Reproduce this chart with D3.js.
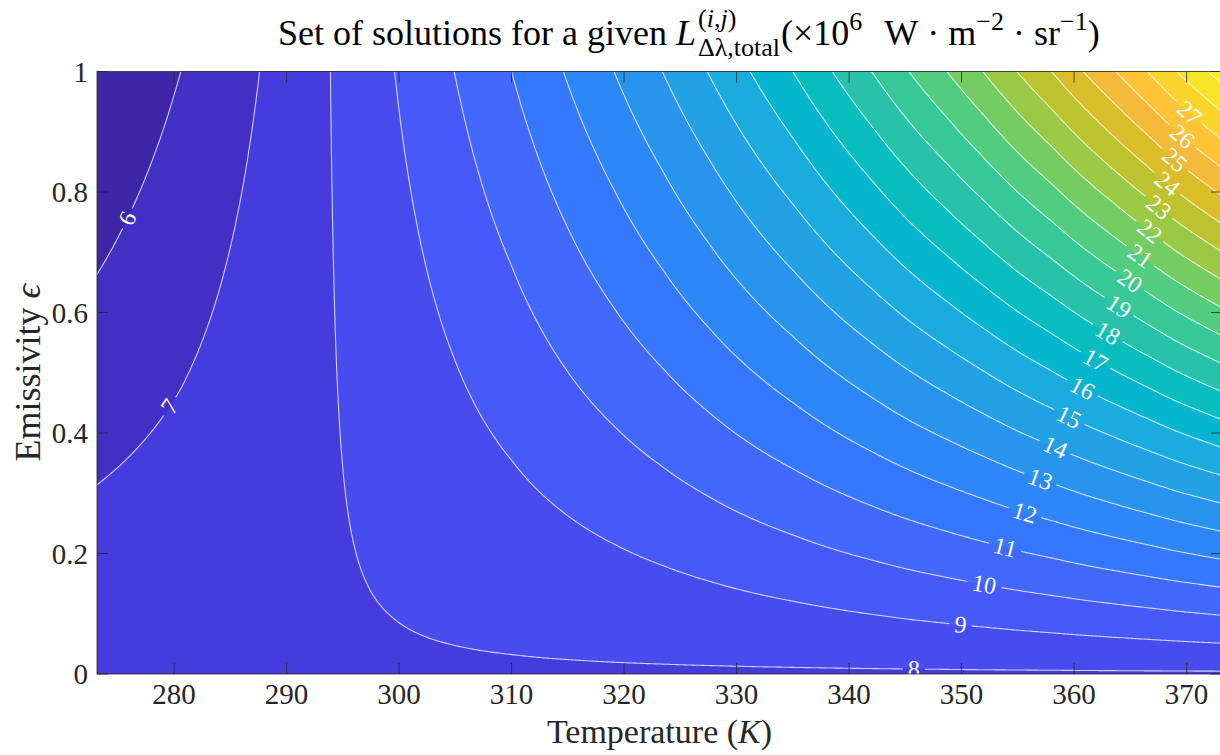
<!DOCTYPE html>
<html><head><meta charset="utf-8">
<script src="https://cdn.jsdelivr.net/npm/d3@7/dist/d3.min.js"></script>
<style>html,body{margin:0;padding:0;background:#fff}svg{display:block}</style>
</head><body>
<svg id="chart" width="1220" height="755"></svg>
<script>
// ---------------- data ----------------
const levels = [6,7,8,9,10,11,12,13,14,15,16,17,18,19,20,21,22,23,24,25,26,27,28,29];
// temperature (K) at which each level meets the top edge (emissivity = 1)
const topEdgeTemperature = [280.6,287.6,293.9,299.6,304.9,310.0,314.6,319.1,323.4,327.4,331.2,335.0,
                            338.5,342.0,345.3,348.7,351.9,354.9,358.0,360.8,363.7,366.5,369.1,371.9];
// emissivity at which levels 6 and 7 meet the left edge (T = 273.15 K)
const leftEdgeLevels = [6, 7];
const leftEdgeEmissivity = [0.666, 0.313];
// level reached as emissivity -> 0 (reflected surroundings)
const ambientLevel = 7.9;
const labelledLevels = [6,7,8,9,10,11,12,13,14,15,16,17,18,19,20,21,22,23,24,25,26,27];
const temperatureRange = [273.15, 373.15];
const emissivityRange = [0, 1];
const xTicks = [280,290,300,310,320,330,340,350,360,370];
const xTickLabels = ["280","290","300","310","320","330","340","350","360","370"];
const yTicks = [0,0.2,0.4,0.6,0.8,1];
const yTickLabels = ["0","0.2","0.4","0.6","0.8","1"];

// ---------------- style ----------------
const parulaRGB = [[0.2422,0.1504,0.6603],[0.2504,0.1650,0.7076],[0.2578,0.1818,0.7511],[0.2647,0.1978,0.7952],
[0.2706,0.2147,0.8364],[0.2751,0.2342,0.8710],[0.2783,0.2559,0.8991],[0.2803,0.2782,0.9221],[0.2813,0.3006,0.9414],
[0.2810,0.3228,0.9579],[0.2795,0.3447,0.9717],[0.2760,0.3667,0.9829],[0.2699,0.3892,0.9906],[0.2602,0.4123,0.9952],
[0.2440,0.4358,0.9988],[0.2206,0.4603,0.9973],[0.1963,0.4847,0.9892],[0.1834,0.5074,0.9798],[0.1786,0.5289,0.9682],
[0.1764,0.5499,0.9520],[0.1687,0.5703,0.9359],[0.1540,0.5902,0.9218],[0.1460,0.6091,0.9079],[0.1380,0.6276,0.8973],
[0.1248,0.6459,0.8883],[0.1113,0.6635,0.8763],[0.0952,0.6798,0.8598],[0.0689,0.6948,0.8394],[0.0297,0.7082,0.8163],
[0.0036,0.7203,0.7917],[0.0067,0.7312,0.7660],[0.0433,0.7411,0.7394],[0.0964,0.7500,0.7120],[0.1408,0.7584,0.6842],
[0.1717,0.7670,0.6554],[0.1938,0.7758,0.6251],[0.2161,0.7843,0.5923],[0.2470,0.7918,0.5567],[0.2906,0.7973,0.5188],
[0.3406,0.8008,0.4789],[0.3909,0.8029,0.4354],[0.4456,0.8024,0.3909],[0.5044,0.7993,0.3480],[0.5616,0.7942,0.3045],
[0.6174,0.7876,0.2612],[0.6720,0.7793,0.2227],[0.7242,0.7698,0.1910],[0.7738,0.7598,0.1646],[0.8203,0.7498,0.1535],
[0.8634,0.7406,0.1596],[0.9035,0.7330,0.1774],[0.9393,0.7288,0.2100],[0.9728,0.7298,0.2394],[0.9956,0.7434,0.2371],
[0.9970,0.7659,0.2199],[0.9952,0.7893,0.2028],[0.9892,0.8136,0.1885],[0.9786,0.8386,0.1766],[0.9676,0.8639,0.1643],
[0.9610,0.8890,0.1537],[0.9597,0.9135,0.1423],[0.9628,0.9373,0.1265],[0.9691,0.9606,0.1064],[0.9769,0.9839,0.0805]];
const parulaScale = d3.scaleLinear()
  .domain(parulaRGB.map((_, i) => i / (parulaRGB.length - 1)))
  .range(parulaRGB.map(c => d3.rgb(c[0]*255, c[1]*255, c[2]*255).formatHex()))
  .interpolate(d3.interpolateRgb).clamp(true);

const FONT = "'Liberation Serif','Times New Roman',serif";
const AX = "#262626";
const plot = {left: 97, right: 1222, top: 71.5, bottom: 674};

// layout guides (data space) along which contour labels sit
const labelGuides = [
  {levels: [6,7], path: [[274.3,0.886],[281.5,0.288]]},
  {levels: [8,9,10,11,12,13,14,15,16,17,18,19,20,21,22,23,24,25,26,27],
   path: [[345.0,-0.01],[345.84,0.010],[350.1,0.085],[355.6,0.267],[359.6,0.428],[363.0,0.566],
          [366.1,0.703],[368.3,0.814],[370.24,0.93],[371.0,0.99]]}
];

// ---------------- scales & field ----------------
const x = d3.scaleLinear().domain(temperatureRange).range([plot.left, plot.right]);
const y = d3.scaleLinear().domain(emissivityRange).range([plot.bottom, plot.top]);
// level at emissivity 1 along the left edge, recovered from the left-edge crossings
const leftEdgeTop = d3.mean(leftEdgeLevels, (L, i) => ambientLevel - (ambientLevel - L) / leftEdgeEmissivity[i]);
const blackbody = d3.scaleLinear()
  .domain([temperatureRange[0], ...topEdgeTemperature])
  .range([leftEdgeTop, ...levels]);
const field = (T, e) => e * blackbody(T) + (1 - e) * ambientLevel;

const nx = 600, ny = 320;
const T0 = temperatureRange[0], T1 = temperatureRange[1];
const values = new Float64Array(nx * ny);
for (let j = 0; j < ny; j++) {
  const e = 1 - j / (ny - 1);
  for (let i = 0; i < nx; i++) {
    values[j * nx + i] = field(T0 + i * (T1 - T0) / (nx - 1), e);
  }
}
const [vmin, vmax] = d3.extent(values);
const colorOf = v => parulaScale((v - vmin) / (vmax - vmin));

const gridT = gx => T0 + (gx - 0.5) * (T1 - T0) / (nx - 1);
const gridE = gy => 1 - (gy - 0.5) / (ny - 1);
const proj = d3.geoTransform({point: function(px, py) { this.stream.point(x(gridT(px)), y(gridE(py))); }});
const path = d3.geoPath(proj);
const contours = d3.contours().size([nx, ny]).thresholds(levels)(values);

// ---------------- draw ----------------
const svg = d3.select("#chart");
const defs = svg.append("defs");
defs.append("clipPath").attr("id", "plotclip").append("rect")
  .attr("x", plot.left).attr("y", plot.top)
  .attr("width", plot.right - plot.left).attr("height", plot.bottom - plot.top);

const gPlot = svg.append("g").attr("clip-path", "url(#plotclip)");
gPlot.append("rect").attr("x", plot.left).attr("y", plot.top)
  .attr("width", plot.right - plot.left).attr("height", plot.bottom - plot.top)
  .attr("fill", colorOf(vmin));
gPlot.append("g").selectAll("path").data(contours).join("path")
  .attr("d", path).attr("fill", d => colorOf(d.value)).attr("stroke", "none");

// label positions
function F(px, py) { return field(x.invert(px), y.invert(py)); }
const labels = [];
labelGuides.forEach(g => {
  g.levels.filter(L => labelledLevels.includes(L)).forEach(L => {
    let found = null;
    for (let s = 0; s < g.path.length - 1 && !found; s++) {
      const a = g.path[s], b = g.path[s + 1];
      const N = 400;
      let prev = null;
      for (let k = 0; k <= N; k++) {
        const t = k / N;
        const T = a[0] + (b[0] - a[0]) * t, e = a[1] + (b[1] - a[1]) * t;
        const v = field(T, e) - L;
        if (prev && Math.sign(v) !== Math.sign(prev.v)) {
          const f = prev.v / (prev.v - v);
          found = [prev.T + (T - prev.T) * f, prev.e + (e - prev.e) * f];
          break;
        }
        prev = {T, e, v};
      }
    }
    if (found) {
      const px = x(found[0]), py = y(found[1]);
      const fx = (F(px + 1, py) - F(px - 1, py)) / 2, fy = (F(px, py + 1) - F(px, py - 1)) / 2;
      let tx = fy, ty = -fx;
      if (tx < 0) { tx = -tx; ty = -ty; }
      labels.push({level: L, px, py, angle: Math.atan2(ty, tx) * 180 / Math.PI});
    }
  });
});

const LABEL_SIZE = 24;
const mask = defs.append("mask").attr("id", "gapmask").attr("maskUnits", "userSpaceOnUse")
  .attr("x", 0).attr("y", 0).attr("width", 1220).attr("height", 755);
mask.append("rect").attr("x", 0).attr("y", 0).attr("width", 1220).attr("height", 755).attr("fill", "#fff");

const gLabels = svg.append("g").attr("clip-path", "url(#plotclip)");
labels.forEach(l => {
  const t = gLabels.append("text")
    .attr("transform", `translate(${l.px},${l.py}) rotate(${l.angle})`)
    .attr("text-anchor", "middle").attr("dy", "0.33em")
    .attr("font-family", FONT).attr("font-size", LABEL_SIZE).attr("fill", "#fff")
    .text(l.level);
  const w = t.node().getComputedTextLength();
  mask.append("rect").attr("transform", `translate(${l.px},${l.py}) rotate(${l.angle})`)
    .attr("x", -w / 2 - 5).attr("y", -LABEL_SIZE * 0.45).attr("width", w + 10).attr("height", LABEL_SIZE * 0.9)
    .attr("fill", "#000");
});

const gLinesWrap = svg.insert("g", () => gLabels.node()).attr("clip-path", "url(#plotclip)");
gLinesWrap.append("g").attr("mask", "url(#gapmask)")
  .selectAll("path").data(contours).join("path")
  .attr("d", path).attr("fill", "none").attr("stroke", "#ffffff")
  .attr("stroke-opacity", 0.75).attr("stroke-width", 1.1);

// axes box and ticks
const gAx = svg.append("g");
gAx.append("rect").attr("x", plot.left).attr("y", plot.top)
  .attr("width", plot.right - plot.left).attr("height", plot.bottom - plot.top)
  .attr("fill", "none").attr("stroke", AX).attr("stroke-width", 0.8);
const TL = 11;
xTicks.forEach((v, i) => {
  const px = x(v);
  gAx.append("line").attr("x1", px).attr("x2", px).attr("y1", plot.bottom).attr("y2", plot.bottom - TL).attr("stroke", AX).attr("stroke-width", 0.8);
  gAx.append("line").attr("x1", px).attr("x2", px).attr("y1", plot.top).attr("y2", plot.top + TL).attr("stroke", AX).attr("stroke-width", 0.8);
  gAx.append("text").attr("x", px).attr("y", 704).attr("text-anchor", "middle")
    .attr("font-family", FONT).attr("font-size", 29).attr("fill", AX).text(xTickLabels[i]);
});
yTicks.forEach((v, i) => {
  const py = y(v);
  gAx.append("line").attr("x1", plot.left).attr("x2", plot.left + TL).attr("y1", py).attr("y2", py).attr("stroke", AX).attr("stroke-width", 0.8);
  gAx.append("line").attr("x1", plot.right).attr("x2", plot.right - TL).attr("y1", py).attr("y2", py).attr("stroke", AX).attr("stroke-width", 0.8);
  gAx.append("text").attr("x", 88).attr("y", py + 10).attr("text-anchor", "end")
    .attr("font-family", FONT).attr("font-size", 29).attr("fill", AX).text(yTickLabels[i]);
});

// axis labels
const xl = gAx.append("text").attr("x", (plot.left + plot.right) / 2).attr("y", 743)
  .attr("text-anchor", "middle").attr("font-family", FONT).attr("font-size", 34).attr("fill", AX);
xl.append("tspan").text("Temperature\u00A0(");
xl.append("tspan").attr("font-style", "italic").text("K");
xl.append("tspan").text(")");

const yl = gAx.append("text").attr("transform", `translate(40,${(plot.top + plot.bottom) / 2}) rotate(-90)`)
  .attr("text-anchor", "middle").attr("font-family", FONT).attr("font-size", 36).attr("fill", AX);
yl.append("tspan").text("Emissivity\u00A0");
yl.append("tspan").attr("font-style", "italic").text("ϵ");

// title with sub/superscripts
const titleG = svg.append("g").attr("font-family", FONT).attr("fill", "#000");
const BASE = 45, BIG = 36, SMALL = 26;
let cx = 278;
function piece(parts, size, dy) {
  const t = titleG.append("text").attr("x", cx).attr("y", BASE + dy).attr("font-size", size);
  parts.forEach(p => t.append("tspan").attr("font-style", p[1] ? "italic" : "normal").text(p[0]));
  return t.node().getComputedTextLength();
}
cx += piece([["Set of solutions for a given\u00A0", false]], BIG, 0);
cx += piece([["L", true]], BIG, 0) + 2;
{
  const w1 = piece([["(", false], ["i", true], [",", false], ["j", true], [")", false]], SMALL, -18);
  const w2 = piece([["Δλ,total", false]], SMALL, 11);
  cx += Math.max(w1, w2) + 1;
}
cx += piece([["(×10", false]], BIG, 0);
cx += piece([["6", false]], SMALL, -15);
cx += 22;
cx += piece([["W\u00A0·\u00A0m", false]], BIG, 0);
cx += piece([["−2", false]], SMALL, -15);
cx += piece([["\u00A0·\u00A0sr", false]], BIG, 0);
cx += piece([["−1", false]], SMALL, -15);
cx += piece([[")", false]], BIG, 0);
</script>
</body></html>
